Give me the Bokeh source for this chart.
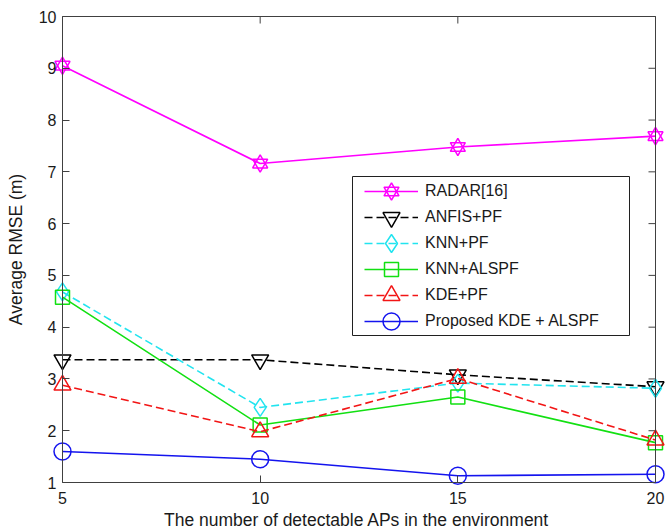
from bokeh.plotting import figure
from bokeh.models import LinearAxis, Range1d, FixedTicker, Legend, LegendItem, BoxAnnotation
from bokeh.embed import file_html
from bokeh.resources import INLINE

# ---------------- data ----------------
x_vals = [5, 10, 15, 20]
radar = [9.05, 7.16, 7.48, 7.69]
anfis_pf = [3.37, 3.37, 3.08, 2.85]
knn_pf = [4.68, 2.45, 2.92, 2.82]
knn_alspf = [4.58, 2.11, 2.65, 1.77]
kde_pf = [2.88, 1.98, 3.01, 1.82]
proposed = [1.60, 1.45, 1.13, 1.16]

x_ticks = [5, 10, 15, 20]
y_ticks = [1, 2, 3, 4, 5, 6, 7, 8, 9, 10]
x_title = "The  number of detectable APs in the environment"
y_title = "Average RMSE (m)"
labels = ["RADAR[16]", "ANFIS+PF", "KNN+PF", "KNN+ALSPF", "KDE+PF", "Proposed KDE + ALSPF"]

# ---------------- layout (pixels) ----------------
W, H = 666, 531
box_left, box_right, box_top, box_bottom = 62, 655, 16, 482
leg_left, leg_right, leg_top, leg_bottom = 352, 629, 176, 335
x0, x1 = x_ticks[0], x_ticks[-1]
y0, y1 = y_ticks[0], y_ticks[-1]
px_x = (box_right - box_left) / (x1 - x0)
px_y = (box_bottom - box_top) / (y1 - y0)
xr = Range1d(x0 - box_left / px_x, x1 + (W - box_right) / px_x)
yr = Range1d(y0 - (H - box_bottom) / px_y, y1 + box_top / px_y)


def dx(px):
    return x0 + (px - box_left) / px_x


def dy(py):
    return y1 - (py - box_top) / px_y


FONT = "Liberation Sans"
AX = "#404040"
TXT = "#1a1a1a"
TICK = 7

p = figure(width=W, height=H, x_range=xr, y_range=yr,
           x_axis_type=None, y_axis_type=None,
           output_backend="svg", toolbar_location=None,
           min_border_left=0, min_border_right=0,
           min_border_top=0, min_border_bottom=0,
           outline_line_color=None, background_fill_color="white",
           border_fill_color="white")


def make_axis(ticks, bounds, loc, title=None):
    ax = LinearAxis(ticker=FixedTicker(ticks=ticks), bounds=bounds, fixed_location=loc)
    ax.major_tick_in = TICK
    ax.major_tick_out = 0
    ax.minor_tick_in = 0
    ax.minor_tick_out = 0
    ax.axis_line_color = AX
    ax.axis_line_width = 1
    ax.major_tick_line_color = AX
    ax.major_tick_line_width = 1
    ax.major_label_text_font = FONT
    ax.major_label_text_color = TXT
    ax.major_label_text_font_size = "16px"
    if title:
        ax.axis_label = title
        ax.axis_label_text_font = FONT
        ax.axis_label_text_font_size = "17.5px"
        ax.axis_label_text_font_style = "normal"
        ax.axis_label_text_color = TXT
    return ax


ax_b = make_axis(x_ticks, (x0, x1), y0, x_title)
ax_b.major_label_standoff = 9
ax_b.axis_label_standoff = 3
ax_l = make_axis(y_ticks, (y0, y1), x0, y_title)
ax_l.major_label_standoff = 6
ax_l.axis_label_standoff = 10
# top and right box edges (no labels)
ax_t = make_axis([], (x0, x1), y1)
ax_r = make_axis([], (y0, y1), x1)
p.add_layout(ax_b, "below")
p.add_layout(ax_l, "left")
p.add_layout(ax_t, "above")
p.add_layout(ax_r, "right")

# inward tick marks on the top and right edges
p.segment(x0=x_ticks, y0=[y1] * len(x_ticks), x1=x_ticks,
          y1=[y1 - TICK / px_y] * len(x_ticks), line_color=AX, line_width=1)
p.segment(x0=[x1] * len(y_ticks), y0=y_ticks, x1=[x1 - TICK / px_x] * len(y_ticks),
          y1=y_ticks, line_color=AX, line_width=1)

LW = 1.6
MLW = 1.5
DASH = "8 4"

series = [
    (radar, "#ff00ff", "solid", [("triangle", 15), ("inverted_triangle", 15)]),
    (anfis_pf, "#000000", DASH, [("inverted_triangle", 17)]),
    (knn_pf, "#22e4ef", DASH, [("diamond", 18)]),
    (knn_alspf, "#12e012", "solid", [("square", 14)]),
    (kde_pf, "#f21515", DASH, [("triangle", 17)]),
    (proposed, "#1414ee", "solid", [("circle", 17)]),
]

# legend frame
frame_box = BoxAnnotation(left=dx(leg_left), right=dx(leg_right),
                          top=dy(leg_top), bottom=dy(leg_bottom),
                          fill_color="white", fill_alpha=1.0,
                          line_color="#202020", line_width=1, line_alpha=1.0)
p.add_layout(frame_box)

ROW = 26
FIRST_ROW = 191
KEY_LEFT = 364
KEY_W = 54

items = []
for i, ((vals, color, dash, markers), lab) in enumerate(zip(series, labels)):
    ln = p.line(x_vals, vals, line_color=color, line_width=LW, line_dash=dash)
    for mk, sz in markers:
        p.scatter(x_vals, vals, marker=mk, size=sz, line_color=color,
                  fill_color=None, line_width=MLW)
        # full-size legend key marker drawn above the legend box
        p.scatter([dx(KEY_LEFT + KEY_W / 2)], [dy(FIRST_ROW + i * ROW)], marker=mk,
                  size=sz, line_color=color, fill_color=None, line_width=MLW,
                  level="overlay")
    items.append(LegendItem(label=lab, renderers=[ln]))

n_items = len(items)
leg_h = n_items * ROW
legend = Legend(items=items,
                location=(KEY_LEFT, H - (FIRST_ROW - ROW // 2 + leg_h)))
legend.label_text_font = FONT
legend.label_text_font_size = "16px"
legend.label_text_color = TXT
legend.glyph_width = KEY_W
legend.glyph_height = ROW
legend.label_height = ROW
legend.label_standoff = 7
legend.spacing = 0
legend.padding = 0
legend.margin = 0
legend.border_line_color = None
legend.background_fill_alpha = 0
p.add_layout(legend)

open("out.html", "w").write(file_html(p, INLINE))
